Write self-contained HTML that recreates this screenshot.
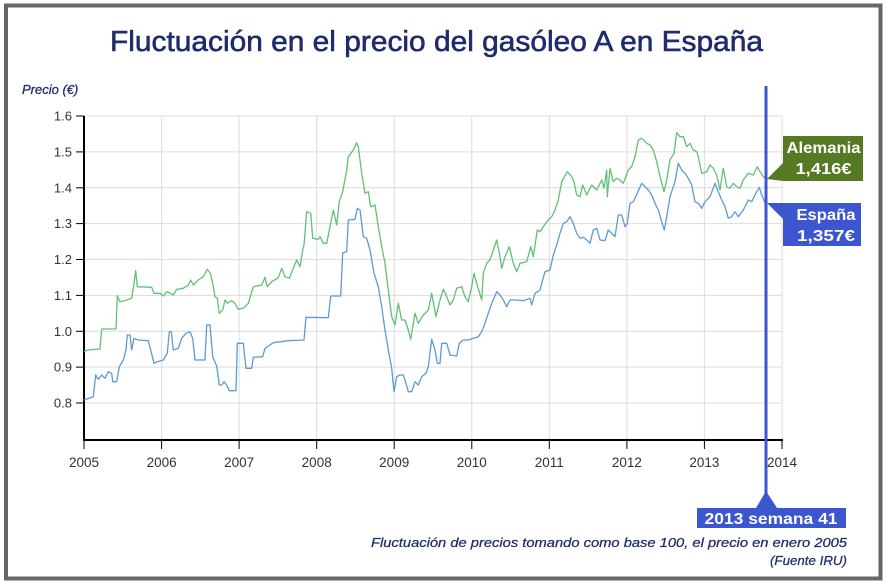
<!DOCTYPE html>
<html>
<head>
<meta charset="utf-8">
<style>
  html, body { margin:0; padding:0; background:#fff; }
  svg { display:block; }
</style>
</head>
<body>
<svg width="887" height="586" viewBox="0 0 887 586" xmlns="http://www.w3.org/2000/svg" font-family="'Liberation Sans', sans-serif">
  <rect x="0" y="0" width="887" height="586" fill="#fff"/>
  <rect x="6" y="5.5" width="874.5" height="573" fill="#fff" stroke="#666" stroke-width="4"/>

  <!-- Title -->
  <text x="110" y="51" font-size="29" fill="#1f2c6c" stroke="#1f2c6c" stroke-width="0.6" textLength="653" lengthAdjust="spacingAndGlyphs">Fluctuación en el precio del gasóleo A en España</text>

  <!-- Y label -->
  <text x="22" y="94" font-size="13" font-style="italic" fill="#1f2c6c" stroke="#1f2c6c" stroke-width="0.3">Precio (€)</text>

  <!-- Grid -->
  <g stroke="#dcdcdc" stroke-width="1">
    <line x1="84" y1="116" x2="782" y2="116"/>
    <line x1="84" y1="151.9" x2="782" y2="151.9"/>
    <line x1="84" y1="187.8" x2="782" y2="187.8"/>
    <line x1="84" y1="223.6" x2="782" y2="223.6"/>
    <line x1="84" y1="259.5" x2="782" y2="259.5"/>
    <line x1="84" y1="295.4" x2="782" y2="295.4"/>
    <line x1="84" y1="331.3" x2="782" y2="331.3"/>
    <line x1="84" y1="367.1" x2="782" y2="367.1"/>
    <line x1="84" y1="403" x2="782" y2="403"/>
    <line x1="161.6" y1="116" x2="161.6" y2="440"/>
    <line x1="239.1" y1="116" x2="239.1" y2="440"/>
    <line x1="316.7" y1="116" x2="316.7" y2="440"/>
    <line x1="394.2" y1="116" x2="394.2" y2="440"/>
    <line x1="471.8" y1="116" x2="471.8" y2="440"/>
    <line x1="549.3" y1="116" x2="549.3" y2="440"/>
    <line x1="626.9" y1="116" x2="626.9" y2="440"/>
    <line x1="704.4" y1="116" x2="704.4" y2="440"/>
    <line x1="782" y1="116" x2="782" y2="440"/>
  </g>

  <!-- Axes -->
  <g stroke="#000">
    <line x1="84" y1="116" x2="84" y2="441" stroke-width="2"/>
    <line x1="83" y1="440" x2="783" y2="440" stroke-width="2"/>
    <g stroke-width="1">
      <line x1="76" y1="116" x2="84" y2="116"/>
      <line x1="76" y1="151.9" x2="84" y2="151.9"/>
      <line x1="76" y1="187.8" x2="84" y2="187.8"/>
      <line x1="76" y1="223.6" x2="84" y2="223.6"/>
      <line x1="76" y1="259.5" x2="84" y2="259.5"/>
      <line x1="76" y1="295.4" x2="84" y2="295.4"/>
      <line x1="76" y1="331.3" x2="84" y2="331.3"/>
      <line x1="76" y1="367.1" x2="84" y2="367.1"/>
      <line x1="76" y1="403" x2="84" y2="403"/>
      <line x1="84" y1="440" x2="84" y2="449"/>
      <line x1="161.6" y1="440" x2="161.6" y2="449"/>
      <line x1="239.1" y1="440" x2="239.1" y2="449"/>
      <line x1="316.7" y1="440" x2="316.7" y2="449"/>
      <line x1="394.2" y1="440" x2="394.2" y2="449"/>
      <line x1="471.8" y1="440" x2="471.8" y2="449"/>
      <line x1="549.3" y1="440" x2="549.3" y2="449"/>
      <line x1="626.9" y1="440" x2="626.9" y2="449"/>
      <line x1="704.4" y1="440" x2="704.4" y2="449"/>
      <line x1="782" y1="440" x2="782" y2="449"/>
    </g>
  </g>

  <!-- Y tick labels -->
  <g font-size="13" fill="#333" text-anchor="end">
    <text x="72" y="120.5">1.6</text>
    <text x="72" y="156.4">1.5</text>
    <text x="72" y="192.3">1.4</text>
    <text x="72" y="228.1">1.3</text>
    <text x="72" y="264">1.2</text>
    <text x="72" y="299.9">1.1</text>
    <text x="72" y="335.8">1.0</text>
    <text x="72" y="371.6">0.9</text>
    <text x="72" y="407.5">0.8</text>
  </g>

  <!-- X tick labels -->
  <g font-size="13.5" fill="#333" text-anchor="middle">
    <text x="84" y="467">2005</text>
    <text x="161.6" y="467">2006</text>
    <text x="239.1" y="467">2007</text>
    <text x="316.7" y="467">2008</text>
    <text x="394.2" y="467">2009</text>
    <text x="471.8" y="467">2010</text>
    <text x="549.3" y="467">2011</text>
    <text x="626.9" y="467">2012</text>
    <text x="704.4" y="467">2013</text>
    <text x="782" y="467">2014</text>
  </g>

  <!-- Alemania series -->
  <polyline fill="none" stroke="#62c074" stroke-width="1.3" stroke-linejoin="round" points="84,351.7 88,350 100,349 101.7,329 116,329 117.3,295.7 120,301.7 126.7,300 131.7,298 133,290 135.7,270.7 137.3,286.7 151.7,287.3 154,293.3 160,293.3 163.3,296 166.7,291.7 170,293 173.3,295 176.7,289.3 183.3,288.3 188.3,285 190.7,280 193.3,285 198.3,280 203.3,276.7 207.3,269.3 210.7,274 213.3,286.7 215,296.7 217.3,298.3 219.3,313.3 222.7,310 225,300 227.3,303.3 231.7,300.7 235,303.3 238.3,309.3 243.3,308.3 248.3,303.3 253.3,286.7 261.7,285 265,277.3 267.3,286.7 271.7,281.7 278.3,277.7 281.7,268.3 285,276.7 289.3,278.3 293.3,268.3 296.7,260 300,266.7 302.7,250 304,245 306.7,211.7 310.7,213.3 312.7,238.3 318.3,239.3 320,236.7 323.3,243.3 326.7,243.3 330,226.7 333.3,210 336.7,225 339.3,201.7 342.7,191.7 346.7,170 348.3,156.7 353.3,150 356.7,142.7 358.3,146.7 361.7,173.3 365,193.3 368.3,191.7 370.7,206.7 375,205 378.3,226.7 381.7,246.7 385,263.3 388.3,290 391.7,316.7 395,325 398.3,303.3 401.7,320 405,320 408.3,330 410.7,339.3 415,313.3 418.3,323.3 423.3,315 428.3,310 431.7,293.3 436,316.7 440,300 443.3,289.3 446.7,296.7 450,305 453.3,300 456.7,288.3 461.7,286.7 465,296.7 468.3,301.7 471.7,286.7 474,273.3 476.7,283.3 481.7,300 483.3,273.3 486.7,263.3 490,260 493.3,250 496.7,240 500,256.7 501.7,268.3 505,256.7 509.3,246.7 513.3,263.3 516.7,271.7 520,263.3 526.7,261.7 530.7,246.7 533.3,256.7 537.3,230 540,231.7 543.3,226.7 548.3,220 551.7,216.7 555,210 558.3,200 561.7,181.7 567.3,171.7 571.7,176.7 574,181.7 576.7,195 580,196.7 582.7,185 586.7,195 591.7,185 596.7,190 601.7,180 604,188.3 606.7,170 607.3,196.7 610,168.3 613.3,181.7 616.7,178.3 620,180 623.3,183.3 628.3,170 631.7,166.7 635,156.7 638.3,140 641.7,138.3 646.7,143.3 650,145 653.3,150 656.7,161.7 660,176.7 664,191.7 666.7,180 670,160 674,153.3 676.7,132.7 680,136.7 683.3,136.7 686.7,146.7 690,143.3 693.3,150 696.7,151.7 698.3,156.7 701.7,173.3 706.7,171.7 710,165 713.3,168.3 716.7,175 720,190 723.3,168.3 726.7,186.7 730,188.3 733.3,183.3 736.7,186.7 740,188.3 743.3,180 748.3,173.3 753.3,175 757.3,166.7 760,171.7 763.3,176.7 766,178.3"/>

  <!-- España series -->
  <polyline fill="none" stroke="#5b9bd6" stroke-width="1.3" stroke-linejoin="round" points="84,400 93.3,396.7 95.7,375 98.3,379.3 101.7,375 105,378.3 108.3,371.7 111.7,373.3 112.7,381.7 116.7,381.7 119.3,366.7 123.3,360 126,350 127.3,335 130,335 131.7,350 134,338.3 138.3,340 148.3,340.7 150.7,350 154,363.3 157.3,361.7 163.3,360 167.3,353.3 169.3,331.7 171.3,331.7 173.3,350 178.3,348.3 181.7,338.3 186,333.3 190,331.7 192.7,338.3 195,360 205,360 206.7,325 210,325 212.7,356.7 216.7,366 219.3,385 221.7,385 224,381.7 226.7,385 229.3,390.7 236,390.7 237.3,343.3 243.3,343.3 246,368.3 251.7,368.3 253.3,357.3 262.7,356.7 265,348.3 268.3,346 273.3,342.7 288.3,340.7 304,340 306,317.3 328.3,317.7 330.7,296 340.7,296 342.7,252.7 346.7,251.7 348.3,220 355,219.3 357.3,208.3 360,210 363.3,236.7 366.7,238.3 370,250 374,273.3 378.3,286.7 381.7,306.7 385,330 388.3,350 391.7,368.3 394,391.7 396.7,376.7 400,375 403.3,375 406,383.3 408.3,391.7 411.7,391.7 415,381.7 418.3,385 421.7,376.7 426,373.3 428.3,366.7 431.7,339.3 435,350 437.3,363.3 440,363.3 441.7,343.3 446.7,343.3 450,355 456.7,356 459.3,343.3 463.3,340 468.3,340 473.3,338.3 478.3,336.7 481.7,331.7 485,323.3 488.3,313.3 491.7,303.3 496.7,291.7 500,295 503.3,300 506.7,306.7 510,300 516.7,300 523.3,300.7 530,298.3 531.7,305 535,293.3 540,290 541.7,283.3 545,271.7 550,270 553.3,255 556.7,245 560,233.3 563.3,223.3 566.7,221.7 570,216.7 573.3,223.3 576.7,233.3 580,238.3 583.3,237.3 586.7,240 590,243.3 593.3,230 596.7,228.3 600,240 605,240.7 608.3,230 611.7,233.3 615,236.7 618.3,215 621.7,215 625,226.7 627.3,223.3 630,203.3 633.3,201.7 637.3,193.3 641.7,183.3 645,186.7 648.3,190 651.7,195 655,203.3 658.3,210 661.7,221.7 664.3,230 666.7,216.7 670,196.7 675,181.7 678.3,163.3 681.7,170 685,173.3 688.3,178.3 691.7,185 695,201.7 698.3,203.3 701.7,208.3 705,201.7 710,196.7 715,183.3 718.3,191.7 721.7,200 725,206.7 728.3,218.3 731.7,216.7 735,211.7 738.3,216.7 743.3,210 748.3,200 751.7,201.7 756.7,191.7 759.3,187.3 761.7,195 765,202.7"/>

  <!-- Current week marker -->
  <line x1="766" y1="86" x2="766" y2="508" stroke="#3b56cf" stroke-width="3"/>
  <polygon points="766,491 756,508 777,508" fill="#3b56cf"/>
  <rect x="697" y="508" width="149" height="20" fill="#3b56cf"/>
  <text x="771" y="524" font-size="16" font-weight="bold" fill="#fff" text-anchor="middle" textLength="133" lengthAdjust="spacingAndGlyphs">2013 semana 41</text>

  <!-- Alemania label -->
  <polygon points="783,163 767,179 783,181" fill="#557a23"/>
  <rect x="783" y="136" width="80" height="45" fill="#557a23"/>
  <text x="823.5" y="153" font-size="16" font-weight="bold" fill="#fff" text-anchor="middle" textLength="74" lengthAdjust="spacingAndGlyphs">Alemania</text>
  <text x="823.5" y="174" font-size="16" font-weight="bold" fill="#fff" text-anchor="middle" textLength="56" lengthAdjust="spacingAndGlyphs">1,416€</text>

  <!-- España label -->
  <polygon points="767,203 783,203 783,219" fill="#3b56cf"/>
  <rect x="783" y="203" width="78" height="43" fill="#3b56cf"/>
  <text x="826" y="220" font-size="16" font-weight="bold" fill="#fff" text-anchor="middle" textLength="59" lengthAdjust="spacingAndGlyphs">España</text>
  <text x="826" y="241" font-size="16" font-weight="bold" fill="#fff" text-anchor="middle" textLength="58" lengthAdjust="spacingAndGlyphs">1,357€</text>

  <!-- Footnote -->
  <text x="847" y="547" font-size="13" font-style="italic" fill="#1f2c6c" stroke="#1f2c6c" stroke-width="0.25" text-anchor="end" textLength="476" lengthAdjust="spacingAndGlyphs">Fluctuación de precios tomando como base 100, el precio en enero 2005</text>
  <text x="847" y="565" font-size="13" font-style="italic" fill="#1f2c6c" stroke="#1f2c6c" stroke-width="0.25" text-anchor="end" textLength="77" lengthAdjust="spacingAndGlyphs">(Fuente IRU)</text>
</svg>
</body>
</html>
